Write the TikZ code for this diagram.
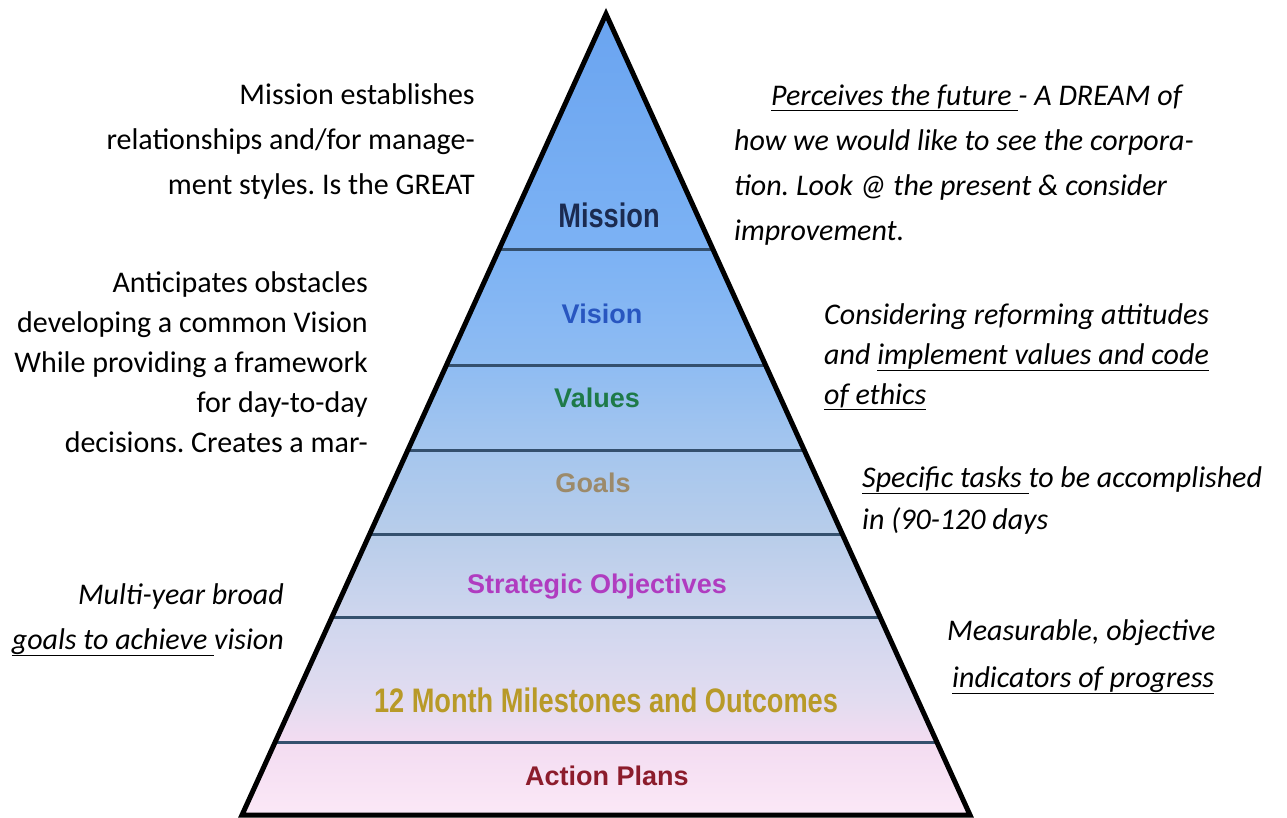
\documentclass[tikz,border=0pt]{standalone}
\usepackage{fontspec}
\setmainfont{Carlito}
\newfontfamily\layerfont{Liberation Sans}
\newfontfamily\narrowfont{Liberation Sans}[FakeStretch=0.8]
\usetikzlibrary{calc}
\frenchspacing

\definecolor{blueA}{HTML}{6AA4F0}
\definecolor{blueB}{HTML}{7CB2F4}
\definecolor{blueC}{HTML}{8FBCF2}
\definecolor{blueD}{HTML}{A5C6EE}
\definecolor{blueE}{HTML}{B8CDEA}
\definecolor{lilacA}{HTML}{CFD6EE}
\definecolor{lilacB}{HTML}{E2DCF0}
\definecolor{pinkA}{HTML}{F3DCF1}
\definecolor{pinkB}{HTML}{FBE8F7}
\definecolor{sepline}{HTML}{34506E}
\definecolor{missionC}{HTML}{1B2B50}
\definecolor{visionC}{HTML}{2856C0}
\definecolor{valuesC}{HTML}{1E7A48}
\definecolor{goalsC}{HTML}{9C8A6A}
\definecolor{strategyC}{HTML}{B03CC0}
\definecolor{milestoneC}{HTML}{B89A28}
\definecolor{actionC}{HTML}{8C1C2C}

% fill of the pyramid, from the base up
\pgfdeclareverticalshading{pyramidshade}{100bp}{color(0bp)=(pinkB); color(25bp)=(pinkB);
  color(29.6bp)=(pinkA); color(32.2bp)=(lilacB); color(37.3bp)=(lilacA);
  color(42.5bp)=(blueE); color(47.8bp)=(blueD); color(53bp)=(blueC);
  color(60.3bp)=(blueB); color(75bp)=(blueA); color(100bp)=(blueA)}

\tikzset{
  note/.style={inner sep=0pt, font=\fontsize{30}{45}\selectfont},
  layer/.style={anchor=base, inner sep=0pt, font=\layerfont\bfseries\fontsize{27}{30}\selectfont},
  biglayer/.style={layer, font=\narrowfont\bfseries\fontsize{34}{36}\selectfont},
  sep/.style={line width=3pt, draw=sepline},
}

\begin{document}
\begin{tikzpicture}[x=1pt,y=-1pt]
  \useasboundingbox (0,0) rectangle (1287,817);

  % Define the pyramid corners
  \coordinate (apex) at (606,14);
  \coordinate (bl) at (242,815);
  \coordinate (br) at (970,815);

  % Fill the pyramid and draw the layer borders
  \shade[shading=pyramidshade] (apex) -- (bl) -- (br) -- cycle;
  \foreach \y in {250,366,450,534,618,742}{
    \pgfmathsetmacro\tpos{(\y-14)/801}
    \draw[sep] ($(apex)!\tpos!(bl)$) -- ($(apex)!\tpos!(br)$);
  }
  \draw[line width=5pt, line join=miter] (apex) -- (bl) -- (br) -- cycle;

  % Layer names
  \node[biglayer, text=missionC] (mission) at (609,227) {Mission};
  \node[layer, text=visionC] (vision) at (602,323) {Vision};
  \node[layer, text=valuesC] (values) at (597,407) {Values};
  \node[layer, text=goalsC] (goals) at (593,492) {Goals};
  \node[layer, text=strategyC] (strategic) at (597,593) {Strategic Objectives};
  \node[biglayer, text=milestoneC] (milestones) at (606,712) {12 Month Milestones and Outcomes};
  \node[layer, text=actionC] (actions) at (607,785) {Action Plans};

  % Notes on the left
  \node[note, anchor=north east, align=right] (missionnote) at (475,83)
    {Mission establishes\\relationships and/for manage-\\ment styles. Is the GREAT};
  \node[note, anchor=north east, align=right, font=\fontsize{30}{40}\selectfont] (visionnote) at (368,271)
    {Anticipates obstacles\\developing a common Vision\\While providing a framework\\for day-to-day\\decisions. Creates a mar-};
  \node[note, anchor=north east, align=right, font=\itshape\fontsize{30}{45}\selectfont] (strategynote) at (284,583)
    {Multi-year broad\\\underline{goals to achieve\ }vision};

  % Notes on the right
  \node[note, anchor=north west, align=left, font=\itshape\fontsize{30}{45}\selectfont] (dreamnote) at (734,84)
    {\hspace*{37pt}\underline{Perceives the future\ }- A DREAM of\\how we would like to see the corpora-\\tion. Look @ the present \& consider\\improvement.};
  \node[note, anchor=north west, align=left, font=\itshape\fontsize{30}{40}\selectfont] (valuesnote) at (824,303)
    {Considering reforming attitudes\\and \underline{implement values and code}\\\underline{of ethics}};
  \node[note, anchor=north west, align=left, font=\itshape\fontsize{30}{42}\selectfont] (goalsnote) at (862,466)
    {\underline{Specific tasks\ }to be accomplished\\in (90-120 days};
  \node[note, anchor=north west, align=left, font=\itshape\fontsize{30}{47}\selectfont] (progressnote) at (947,619)
    {Measurable, objective\\\hspace*{5pt}\underline{indicators of progress}};
\end{tikzpicture}
\end{document}
